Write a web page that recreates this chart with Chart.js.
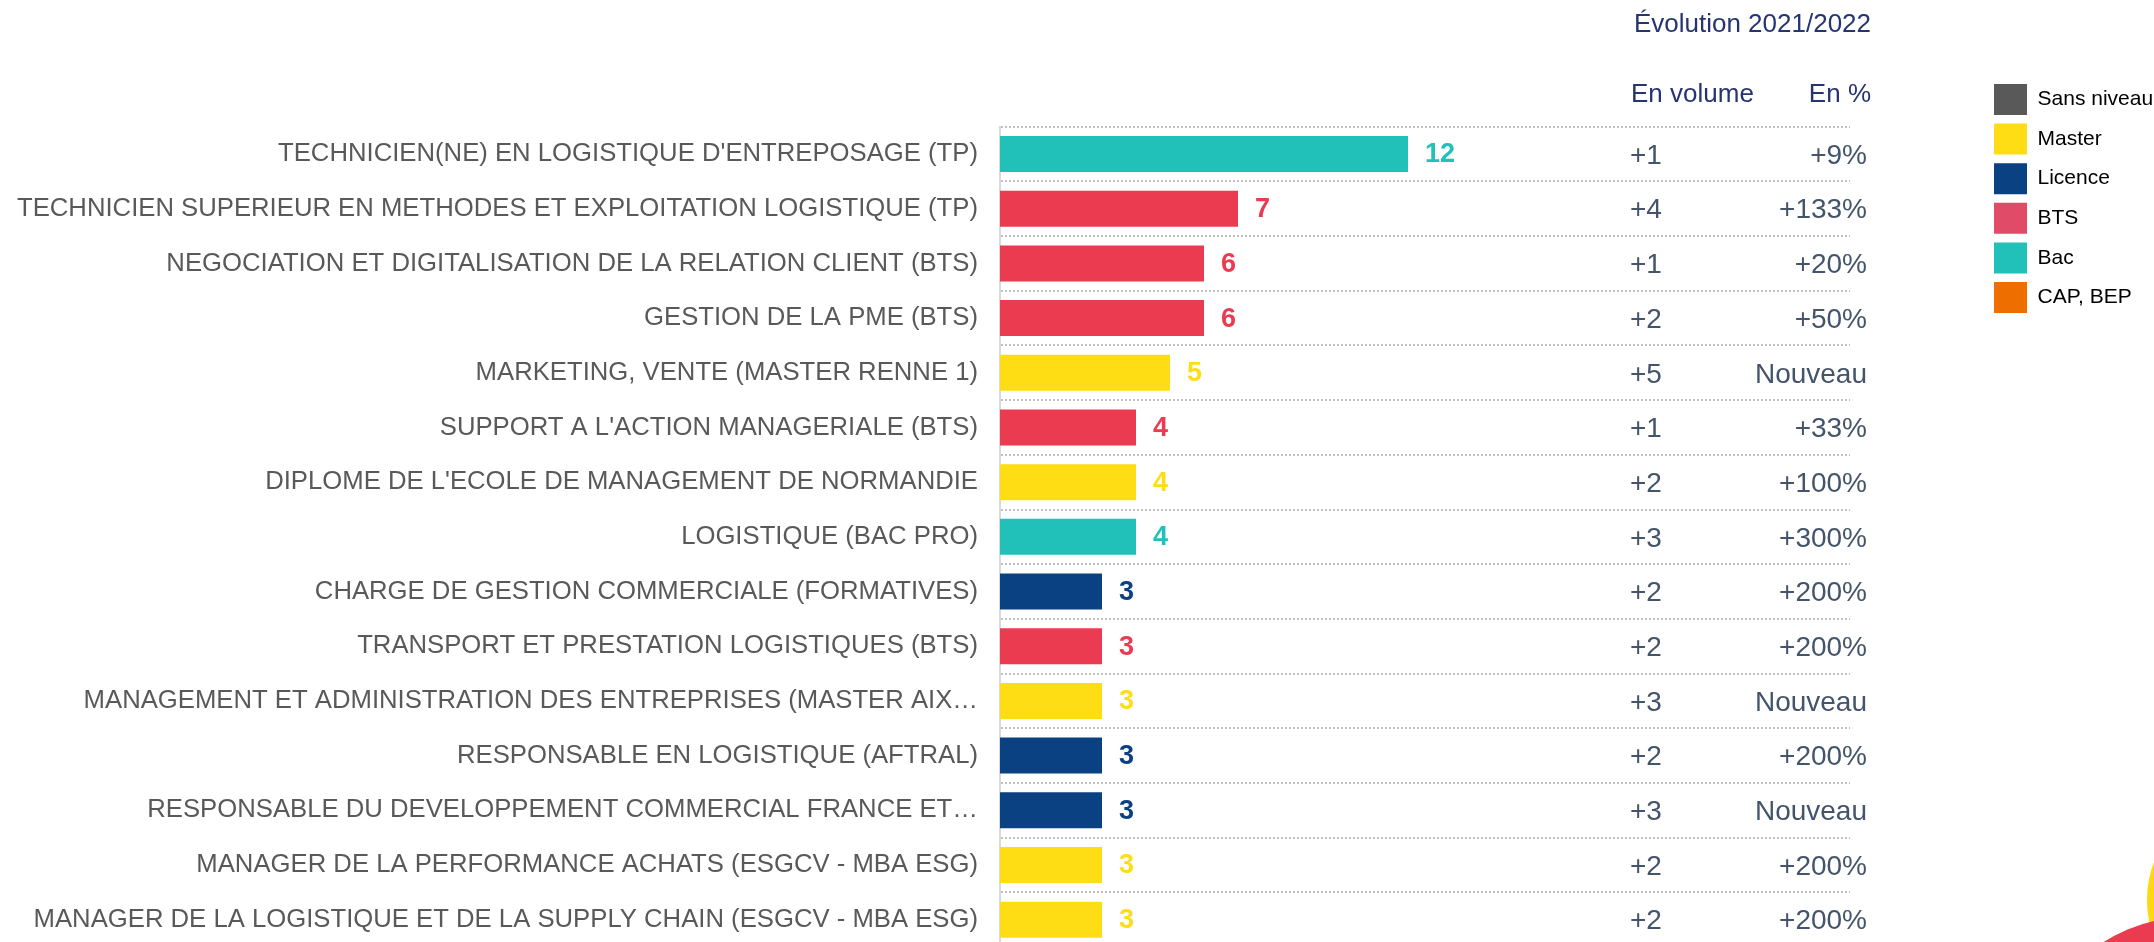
<!DOCTYPE html>
<html lang="fr">
<head>
<meta charset="utf-8">
<title>Formations - évolution 2021/2022</title>
<script src="https://cdn.jsdelivr.net/npm/chart.js@4.4.1/dist/chart.umd.min.js"></script>
<style>
    html, body { margin: 0; padding: 0; background: #fff; overflow: hidden; }
    #wrap { position: relative; width: 2154px; height: 942px; overflow: hidden; }
    #formationsChart { display: block; }
    .deco { position: absolute; border-radius: 50%; }
    #decoYellow { left: 2147px; top: 793px; width: 190px; height: 190px; border: 12px solid #ffd814; background: #fff; }
    #decoRed { left: 2027px; top: 917px; width: 326px; height: 326px; background: #eb3b50; }
</style>
</head>
<body>
<div id="wrap">
    <canvas id="formationsChart" width="2154" height="950"></canvas>
    <div class="deco" id="decoYellow"></div>
    <div class="deco" id="decoRed"></div>
</div>
<script>
var categories = [
    "TECHNICIEN(NE) EN LOGISTIQUE D'ENTREPOSAGE (TP)",
    "TECHNICIEN SUPERIEUR EN METHODES ET EXPLOITATION LOGISTIQUE (TP)",
    "NEGOCIATION ET DIGITALISATION DE LA RELATION CLIENT (BTS)",
    "GESTION DE LA PME (BTS)",
    "MARKETING, VENTE (MASTER RENNE 1)",
    "SUPPORT A L'ACTION MANAGERIALE (BTS)",
    "DIPLOME DE L'ECOLE DE MANAGEMENT DE NORMANDIE",
    "LOGISTIQUE (BAC PRO)",
    "CHARGE DE GESTION COMMERCIALE (FORMATIVES)",
    "TRANSPORT ET PRESTATION LOGISTIQUES (BTS)",
    "MANAGEMENT ET ADMINISTRATION DES ENTREPRISES (MASTER AIX…",
    "RESPONSABLE EN LOGISTIQUE (AFTRAL)",
    "RESPONSABLE DU DEVELOPPEMENT COMMERCIAL FRANCE ET…",
    "MANAGER DE LA PERFORMANCE ACHATS (ESGCV - MBA ESG)",
    "MANAGER DE LA LOGISTIQUE ET DE LA SUPPLY CHAIN (ESGCV - MBA ESG)"
];
var values = [12, 7, 6, 6, 5, 4, 4, 4, 3, 3, 3, 3, 3, 3, 3];
var barLevels = ["Bac", "BTS", "BTS", "BTS", "Master", "BTS", "Master", "Bac",
    "Licence", "BTS", "Master", "Licence", "Licence", "Master", "Master"];
var evolVolume = ["+1", "+4", "+1", "+2", "+5", "+1", "+2", "+3", "+2", "+2", "+3", "+2", "+3", "+2", "+2"];
var evolPercent = ["+9%", "+133%", "+20%", "+50%", "Nouveau", "+33%", "+100%", "+300%",
    "+200%", "+200%", "Nouveau", "+200%", "Nouveau", "+200%", "+200%"];
var headerTitle = "Évolution 2021/2022";
var headerCols = ["En volume", "En %"];
var legendLevels = ["Sans niveau", "Master", "Licence", "BTS", "Bac", "CAP, BEP"];

// couleurs
var legendColors = {
    "Sans niveau": "#595959",
    "Master": "#ffdd15",
    "Licence": "#0a4182",
    "BTS": "#e04c67",
    "Bac": "#21c1b9",
    "CAP, BEP": "#ee6e00"
};
var barColors = {
    "Master": "#ffdd15",
    "Licence": "#0a4182",
    "BTS": "#eb3b50",
    "Bac": "#21c1b9"
};
var fontFamily = '"Liberation Sans", Arial, sans-serif';

document.addEventListener("DOMContentLoaded", function () {
    var evolutionTable = {
        id: "evolutionTable",
        afterDatasetsDraw: function (chart) {
            var ctx = chart.ctx;
            var area = chart.chartArea;
            var yScale = chart.scales.y;
            var bars = chart.getDatasetMeta(0).data;
            ctx.save();
            ctx.textBaseline = "middle";

            // valeurs au bout des barres
            ctx.font = "bold 27px " + fontFamily;
            ctx.textAlign = "left";
            bars.forEach(function (bar, i) {
                ctx.fillStyle = barColors[barLevels[i]];
                ctx.fillText(String(values[i]), bar.x + 17, bar.y + 1);
            });

            // colonnes d'évolution
            ctx.font = "28px " + fontFamily;
            ctx.fillStyle = "#44546a";
            categories.forEach(function (c, i) {
                var y = yScale.getPixelForValue(i) + 2;
                ctx.textAlign = "left";
                ctx.fillText(evolVolume[i], area.right - 220, y);
                ctx.textAlign = "right";
                ctx.fillText(evolPercent[i], area.right + 17, y);
            });

            // en-têtes
            ctx.font = "26px " + fontFamily;
            ctx.fillStyle = "#263472";
            ctx.textAlign = "right";
            ctx.fillText(headerTitle, area.right + 21, area.top - 102);
            ctx.fillText(headerCols[1], area.right + 21, area.top - 32);
            ctx.textAlign = "left";
            ctx.fillText(headerCols[0], area.right - 219, area.top - 32);
            ctx.restore();
        }
    };

    var ctx = document.getElementById("formationsChart").getContext("2d");
    new Chart(ctx, {
        type: "bar",
        data: {
            labels: categories,
            datasets: [{
                label: "Formations",
                data: values,
                backgroundColor: barLevels.map(function (l) { return barColors[l]; }),
                borderWidth: 0,
                categoryPercentage: 1,
                barPercentage: 0.658
            }]
        },
        options: {
            indexAxis: "y",
            responsive: false,
            animation: false,
            events: [],
            layout: {
                padding: { top: 75.4, right: -9.1, bottom: 3, left: 0 }
            },
            scales: {
                x: {
                    position: "top",
                    min: 0,
                    max: 25,
                    ticks: { display: false },
                    grid: { display: false },
                    border: { display: false },
                    afterFit: function (s) { s.height = 51.3; }
                },
                y: {
                    ticks: {
                        color: "#595959",
                        padding: 22,
                        autoSkip: false,
                        font: { family: fontFamily, size: 25.7 }
                    },
                    grid: { color: "#c0c0c0", lineWidth: 2, drawTicks: false },
                    border: { display: true, color: "#d9d9d9", width: 2, dash: [2, 2] },
                    afterFit: function (s) {
                        s.width = 1000;
                        s.paddingTop = 0;
                        s.paddingBottom = 0;
                    }
                },
                yRight: {
                    type: "category",
                    position: "right",
                    labels: categories,
                    ticks: { display: false },
                    grid: { display: false },
                    border: { display: false },
                    afterFit: function (s) { s.width = 135.4; }
                }
            },
            plugins: {
                tooltip: { enabled: false },
                legend: {
                    position: "right",
                    align: "start",
                    onClick: function () {},
                    labels: {
                        boxWidth: 33,
                        boxHeight: 31,
                        padding: 8.6,
                        color: "#111111",
                        font: { family: fontFamily, size: 21 },
                        generateLabels: function () {
                            return legendLevels.map(function (l, i) {
                                return {
                                    text: l,
                                    fillStyle: legendColors[l],
                                    strokeStyle: legendColors[l],
                                    lineWidth: 0,
                                    hidden: false,
                                    index: i
                                };
                            });
                        }
                    }
                }
            }
        },
        plugins: [evolutionTable]
    });
});
</script>
</body>
</html>
